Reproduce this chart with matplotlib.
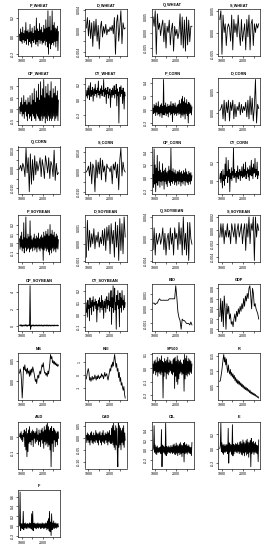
import numpy as np
import matplotlib
matplotlib.use('Agg')
import matplotlib.pyplot as plt
from matplotlib.ticker import MaxNLocator

plt.rcParams['font.family'] = ['Liberation Sans', 'DejaVu Sans']
plt.rcParams['axes.unicode_minus'] = False

# ---------------- data (approximate) ----------------
x_ticks = [1980, 1990, 2000, 2010]
x_tick_labels = ['1980', '', '2000', '']
first_year, last_year = 1978, 2014.9

P_WHEAT = [0.02,-0.05,0.08,-0.06,0.04,-0.08,0.10,-0.04,0.03,-0.07, 0.06,-0.05,0.15,-0.09,0.05,-0.03,0.07,-0.10,0.04,-0.06,
           0.13,-0.08,0.05,-0.12,0.09,-0.05,0.03,-0.07,0.11,-0.04, 0.06,-0.09,0.20,-0.06,0.08,-0.11,0.05,-0.04,0.14,-0.08,
           0.07,-0.05,0.10,-0.09,0.04,-0.07,0.12,-0.05,0.08,-0.10, 0.18,-0.06,0.09,-0.12,0.28,-0.20,0.10,-0.08,0.22,-0.14,
           0.06,-0.09,0.28,-0.07,0.12,-0.10,0.15,-0.06,0.09,-0.12, 0.08,-0.05,0.11,-0.16,0.05]
D_WHEAT = [0.0005,0.0025,-0.001,0.002,-0.0015,0.0015,-0.003,0.0018,-0.001,0.0022, -0.002,0.001,-0.0035,0.0005,0.0018,-0.0012,0.0008,-0.0005,0.0012,-0.0008,
           0.0003,-0.0002,0.0007,0.0,0.001,-0.0006,0.0025,-0.0045,0.0015,0.003, -0.002,0.0008,0.0038,-0.0025,0.0015,0.0003,0.0005]
Q_WHEAT = [0.005,0.002,0.007,-0.007,0.006,0.001,0.003,-0.001,0.002,0.004, -0.003,0.003,-0.005,0.002,0.0,0.004,-0.004,0.001,0.003,-0.006,
           0.002,-0.001,0.001,-0.002,0.0,0.006,-0.004,0.005,-0.005,0.004, -0.006,0.005,-0.004,0.004,-0.003,0.002,0.002]
S_WHEAT = [0.003,0.005,-0.005,0.004,0.0,0.002,-0.003,0.001,0.002,0.001, -0.002,0.004,-0.004,0.003,0.0,0.002,-0.001,0.004,0.0,-0.003,
           0.003,-0.002,0.0,0.002,-0.004,0.003,-0.001,0.004,-0.004,0.002, 0.003,-0.003,0.002,0.0,0.002,0.001,0.002]
OP_WHEAT = [0.1,-0.2,0.3,-0.1,0.5,-0.3,0.2,-0.2,0.6,-0.4, 0.3,-0.1,0.4,-0.3,0.2,-0.5,0.5,-0.2,0.3,-0.4,
            0.6,-0.3,0.2,-0.5,0.7,-0.2,0.4,-0.3,0.9,-0.4, 0.3,-0.5,0.8,-0.2,0.5,-0.3,1.1,-0.4,0.4,-0.5,
            1.2,-0.3,0.6,-0.5,0.9,-0.4,1.3,-0.3,0.5,-0.6, 1.0,-0.4,0.7,-0.5,1.1,-0.3,0.6,-0.5,0.8,-0.4,
            1.2,-0.5,0.5,-0.4,0.9,-0.3,0.7,-0.5,1.0,-0.4, 0.6,-0.3,0.8,-0.5,0.4]
CY_WHEAT = [0.05,0.12,0.02,0.15,0.06,0.18,0.0,0.10,0.22,0.04, 0.12,0.07,0.16,-0.02,0.10,0.14,0.05,0.20,0.08,0.12,
            0.03,0.15,0.09,0.24,0.06,0.11,0.02,0.14,0.08,0.18, 0.05,0.12,0.10,0.26,0.04,0.13,0.07,0.15,-0.05,0.12,
            0.08,0.16,0.02,0.10,0.06,0.14,-0.10,0.08,0.12,0.03, 0.15,0.06,0.10,0.18,0.02,0.12,0.08,0.20,-0.08,0.14,
            0.05,0.10,-0.30,0.12,0.16,0.04,0.18,0.08,0.12,-0.05, 0.15,0.06,-0.12,0.10,0.05]
P_CORN = [0.02,-0.06,0.08,-0.05,0.06,-0.09,0.10,-0.04,0.05,-0.08, 0.12,-0.06,0.04,-0.10,0.07,-0.05,0.09,-0.12,0.05,-0.07,
          0.45,-0.08,0.06,-0.05,0.10,-0.09,0.04,-0.06,0.08,-0.11, 0.05,-0.04,0.07,-0.08,0.12,-0.06,0.05,-0.18,0.09,-0.05,
          0.06,-0.08,0.10,-0.06,0.04,-0.09,0.07,-0.05,0.08,-0.07, 0.14,-0.06,0.09,-0.12,0.16,-0.08,0.20,-0.10,0.12,-0.07,
          0.18,-0.14,0.10,-0.06,0.15,-0.09,0.08,-0.20,0.11,-0.06, 0.09,-0.05,0.07,-0.08,0.04]
D_CORN = [0.0005,0.001,0.002,-0.0015,0.003,-0.002,0.0025,0.0,0.003,-0.002, 0.0025,0.0005,0.003,-0.0015,0.002,-0.001,0.0015,0.0005,0.0025,-0.0005,
          0.002,0.0,0.0015,0.0005,0.0025,-0.001,0.003,-0.0015,0.004,-0.0005, 0.0035,-0.002,0.0015,0.008,-0.0025,0.002,0.001]
Q_CORN = [0.0,0.002,-0.001,0.003,0.001,-0.004,0.011,-0.002,0.006,-0.012, 0.008,-0.008,0.005,-0.006,0.007,-0.003,0.004,-0.001,0.002,0.006,
          -0.004,0.005,0.001,-0.005,0.007,0.003,-0.002,0.006,-0.005,0.004, 0.002,-0.004,0.010,-0.006,0.003,-0.003,-0.002]
S_CORN = [0.0,0.001,0.003,-0.002,0.005,-0.006,0.004,0.002,-0.010,0.006, -0.003,0.005,-0.001,0.007,-0.004,0.006,0.0,0.003,-0.005,0.004,
          0.002,0.002,0.0,0.003,-0.006,0.004,0.001,0.005,-0.003,0.004, -0.009,0.006,0.012,-0.002,0.005,0.001,0.0]
OP_CORN = [0.05,-0.15,0.45,-0.10,0.20,-0.22,0.15,-0.08,0.35,-0.12, 0.10,-0.05,0.25,-0.15,0.12,-0.06,0.08,-0.12,0.22,-0.05,
           0.10,-0.18,0.12,-0.06,0.15,-0.10,0.08,-0.14,0.10,-0.05, 0.18,-0.08,0.12,-0.12,0.46,-0.06,0.10,-0.09,0.14,-0.05,
           0.08,-0.11,0.12,-0.07,0.06,-0.12,0.10,-0.05,0.09,-0.10, 0.12,-0.06,0.08,-0.13,0.10,-0.07,0.06,-0.10,0.11,-0.05,
           0.08,-0.12,0.14,-0.06,0.09,-0.08,0.05,-0.11,0.10,-0.06, 0.07,-0.10,0.08,-0.05,0.03]
CY_CORN = [0.02,0.08,-0.02,0.10,0.04,-0.08,0.12,0.00,0.06,-0.05, 0.18,0.02,0.25,0.05,0.10,-0.02,0.22,0.04,0.12,-0.12,
           0.08,0.02,0.14,0.00,0.10,0.06,0.35,0.03,0.12,0.05, 0.08,-0.02,0.10,0.04,0.16,0.02,0.09,0.06,0.12,0.00,
           0.10,0.05,0.15,0.03,0.08,0.18,0.04,0.12,0.06,0.20, 0.02,0.10,0.08,0.14,0.04,0.12,0.00,0.16,0.06,0.10,
           0.22,0.05,0.14,0.02,0.18,0.08,0.10,0.24,0.04,0.12, 0.06,0.20,0.02,0.10,0.06]
P_SOYBEAN = [0.05,-0.06,0.08,-0.04,0.12,-0.08,0.04,-0.05,0.22,-0.10, 0.06,-0.04,0.28,-0.08,0.05,-0.06,0.10,-0.05,0.07,-0.09,
             0.24,-0.06,0.08,-0.05,0.04,-0.08,0.06,-0.04,0.10,-0.07, 0.05,-0.05,0.08,-0.09,0.06,-0.04,0.11,-0.06,0.05,-0.08,
             0.07,-0.05,0.09,-0.06,0.06,-0.18,0.12,-0.07,0.08,-0.05, 0.13,-0.08,0.10,-0.06,0.15,-0.09,0.08,-0.12,0.20,-0.07,
             0.10,-0.10,0.14,-0.05,0.09,-0.08,0.12,-0.06,0.07,-0.09, 0.10,-0.05,0.08,-0.06,0.04]
D_SOYBEAN = [-0.0008,0.0014,-0.0004,0.0008,-0.0002,0.0006,0.0000,0.0009,-0.0003,0.0005, 0.0001,0.0007,-0.0002,0.0004,0.0000,0.0008,-0.0001,0.0009,-0.0004,0.0010,
             0.0002,0.0011,-0.0006,0.0012,0.0000,0.0008,-0.0008,0.0013,-0.0002,0.0011, -0.0010,0.0015,-0.0004,0.0012,-0.0006,0.0016,0.0004]
Q_SOYBEAN = [-0.002,0.002,-0.003,0.001,-0.001,0.000,0.001,-0.001,0.000,0.002, -0.002,0.001,-0.003,0.000,0.001,-0.002,0.002,-0.001,0.001,-0.003,
             0.002,0.000,0.001,-0.002,0.003,-0.001,0.002,-0.003,0.004,-0.002, 0.001,-0.003,0.003,-0.004,0.003,0.000,-0.001]
S_SOYBEAN = [-0.001,0.001,-0.001,0.001,-0.002,0.000,-0.001,0.001,-0.001,0.000, -0.002,0.001,0.000,-0.001,0.001,-0.002,0.000,0.001,-0.001,0.000,
             0.001,-0.002,0.000,0.001,-0.003,0.001,-0.001,0.002,-0.002,0.001, 0.000,0.002,-0.0045,0.002,-0.001,0.001,0.000]
OP_SOYBEAN = [0.0,0.08,-0.05,0.10,-0.08,0.05,-0.10,0.06,0.0,-0.06, 0.08,-0.04,0.12,-0.07,0.05,-0.09,0.06,-0.03,0.10,-0.05,
              4.8,-0.45,0.05,-0.08,0.07,-0.05,0.09,-0.06,0.04,-0.07, 0.06,-0.04,0.08,-0.05,0.05,-0.07,0.06,-0.04,0.07,-0.06,
              0.05,-0.05,0.08,-0.06,0.04,-0.08,0.06,-0.05,0.07,-0.04, 0.05,-0.06,0.08,-0.05,0.06,-0.07,0.05,-0.04,0.07,-0.06,
              0.04,-0.05,0.06,-0.04,0.05,-0.06,0.07,-0.05,0.04,-0.03, 0.05,-0.04,0.06,-0.05,0.02]
CY_SOYBEAN = [0.02,0.10,-0.02,0.12,0.05,0.08,-0.05,0.14,0.06,0.10, 0.00,0.12,0.07,0.15,0.03,0.10,0.08,0.13,0.05,0.11,
              -0.06,0.09,0.04,0.12,0.07,0.14,0.02,0.10,0.06,0.16, 0.04,0.12,0.08,-0.03,0.11,0.06,0.13,0.02,0.10,0.15,
              0.05,0.12,0.08,0.18,0.03,0.11,0.07,0.20,-0.08,0.14, 0.06,0.24,0.02,0.12,0.22,0.04,0.10,-0.12,0.16,0.08,
              0.20,0.05,0.12,-0.10,0.18,0.06,0.14,0.02,0.20,0.08, 0.12,0.04,0.16,0.06,0.10]
BIO = [0.0004,0.0004,0.0003,0.0004,0.0004,0.0006,0.0007,0.0006,0.0006,0.0006, 0.0006,0.0006,0.0006,0.0006,0.0006,0.0007,0.0007,0.0007,0.0007,0.0007,
       0.0007,0.0016,0.0008,-0.0002,-0.0006,-0.0008,-0.0014,-0.0007,-0.0008,-0.0008, -0.0009,-0.0010,-0.0010,-0.0010,-0.0011,-0.0009,-0.0011]
GDP = [0.025,0.060,0.015,0.055,0.005,0.065,0.040,0.000,0.050,0.030, 0.045,0.020,0.030,0.010,0.015,0.005,0.020,0.030,0.015,0.035,
       0.025,0.040,0.030,0.045,0.035,0.050,0.040,0.060,0.045,0.065, 0.055,0.070,0.060,0.080,0.085,0.065,0.040,0.080,0.070,0.045,
       0.050,0.040,0.035,0.030,0.020]
MS = [0.020,0.030,0.022,0.000,-0.040,-0.010,0.035,0.028,0.040,0.025, 0.030,0.018,0.032,0.020,0.025,0.012,0.028,0.015,0.030,0.022,
      0.035,0.028,0.020,0.010,0.000,0.005,-0.005,0.010,0.015,0.008, 0.020,0.025,0.018,0.030,0.040,0.035,0.045,0.030,0.020,0.022,
      0.015,0.020,0.012,0.025,0.018,0.030,0.045,0.065,0.055,0.060, 0.045,0.050,0.042,0.048,0.040,0.045,0.038,0.042,0.036,0.040]
KEI = [-0.3,0.0,0.3,0.5,0.2,-0.4,-0.2,-0.5,-0.3,-0.1, -0.4,-0.2,-0.3,0.0,-0.2,-0.4,-0.1,-0.3,0.0,-0.2,
       -0.3,-0.1,-0.2,0.1,-0.1,0.0,-0.3,-0.1,0.2,-0.1, 0.0,0.1,-0.2,-0.4,-0.1,0.2,0.5,0.3,0.8,0.6,
       1.0,0.7,1.2,1.6,1.1,0.6,0.9,0.3,0.5,-0.2, 0.2,-0.5,-0.2,-0.8,-0.6,-1.0,-1.2,-0.9,-1.5,-1.8]
SP500 = [0.03,-0.04,0.05,-0.02,0.06,-0.05,0.04,-0.03,0.08,-0.06, 0.05,-0.03,0.07,-0.04,0.06,-0.05,0.09,-0.03,0.05,-0.22,
         0.04,-0.06,0.07,-0.03,0.05,-0.08,0.06,-0.04,0.08,-0.05, 0.04,-0.03,0.06,-0.02,0.05,-0.04,0.03,-0.05,0.06,-0.03,
         0.07,-0.15,0.08,-0.06,0.05,-0.10,0.09,-0.12,0.06,-0.08, 0.05,-0.04,0.06,-0.03,0.04,-0.05,0.03,-0.04,0.06,-0.17,
         0.10,-0.08,0.07,-0.05,0.09,-0.06,0.05,-0.04,0.07,-0.05, 0.06,-0.03,0.05,-0.04,0.03]
R = [0.065,0.070,0.085,0.100,0.120,0.140,0.155,0.130,0.145,0.120, 0.140,0.110,0.095,0.120,0.100,0.090,0.105,0.085,0.095,0.080,
     0.090,0.075,0.085,0.068,0.078,0.062,0.072,0.058,0.068,0.055, 0.065,0.052,0.060,0.048,0.056,0.045,0.052,0.040,0.048,0.038,
     0.045,0.035,0.042,0.032,0.038,0.028,0.035,0.025,0.030,0.022, 0.028,0.020,0.025,0.018,0.022,0.015,0.018,0.012,0.015,0.010]
AUD = [0.0,0.02,-0.01,0.03,-0.02,0.01,-0.03,0.02,0.00,0.04, -0.06,0.03,-0.08,0.05,-0.12,0.02,-0.09,0.04,-0.04,0.06,
       -0.03,0.02,-0.05,0.03,-0.02,0.04,-0.06,0.03,-0.01,0.02, -0.04,0.03,-0.03,0.05,-0.02,0.01,-0.05,0.04,-0.03,0.02,
       -0.06,0.04,-0.02,0.05,-0.04,0.03,-0.07,0.06,-0.03,0.04, -0.05,0.07,-0.04,0.08,-0.06,0.06,-0.05,0.04,-0.08,0.05,
       -0.18,0.06,-0.04,0.03,-0.09,0.05,-0.02,0.04,-0.06,0.03, -0.03,0.02,-0.05,0.03,-0.01]
CAD = [0.01,-0.02,0.02,-0.01,0.015,-0.02,0.01,-0.03,0.02,-0.01, 0.025,-0.02,0.01,-0.025,0.02,-0.015,0.01,-0.02,0.03,-0.01,
       0.02,-0.02,0.015,-0.03,0.02,-0.01,0.025,-0.02,0.01,-0.03, 0.02,-0.015,0.03,-0.02,0.01,-0.025,0.02,-0.01,0.015,-0.02,
       0.025,-0.03,0.02,-0.015,0.03,-0.02,0.01,-0.025,0.04,-0.02, 0.05,-0.03,0.06,-0.04,0.03,-0.05,0.05,-0.03,0.04,-0.06,
       -0.12,0.06,-0.04,0.05,-0.03,0.04,-0.05,0.03,-0.02,0.04, -0.03,0.05,-0.04,0.02,-0.01]
OIL = [0.0,0.05,0.50,-0.05,0.10,-0.08,0.06,-0.10,0.08,-0.05, 0.04,-0.06,0.05,-0.04,0.06,-0.08,0.42,-0.35,0.10,-0.06,
       0.08,-0.05,0.06,-0.09,0.55,-0.12,0.07,-0.08,0.06,-0.05, 0.08,-0.06,0.05,-0.07,0.09,-0.05,0.06,-0.08,0.10,-0.06,
       0.12,-0.09,0.08,-0.10,0.14,-0.07,0.10,-0.12,0.08,-0.06, 0.12,-0.10,0.15,-0.08,0.10,-0.14,0.09,-0.06,0.13,-0.25,
       0.15,-0.08,0.10,-0.06,0.12,-0.09,0.08,-0.05,0.10,-0.07, 0.06,-0.08,0.05,-0.12,0.15]
E = [0.0,0.04,0.35,-0.04,0.08,-0.06,0.05,-0.08,0.06,-0.05, 0.04,-0.05,0.06,-0.04,0.05,-0.07,0.28,-0.20,0.08,-0.05,
     0.06,-0.04,0.05,-0.08,0.33,-0.10,0.06,-0.07,0.05,-0.04, 0.07,-0.05,0.06,-0.06,0.08,-0.04,0.05,-0.07,0.09,-0.05,
     0.10,-0.08,0.07,-0.09,0.12,-0.06,0.09,-0.10,0.07,-0.05, 0.11,-0.09,0.13,-0.07,0.09,-0.12,0.08,-0.05,0.11,-0.25,
     0.14,-0.07,0.09,-0.05,0.10,-0.08,0.07,-0.05,0.09,-0.06, 0.05,-0.07,0.04,-0.18,0.12]
F = [0.0,0.70,-0.10,0.05,-0.05,0.04,-0.06,0.30,-0.08,0.05, -0.04,0.06,-0.05,0.04,-0.06,0.05,-0.03,0.04,-0.05,0.06,
     -0.04,0.05,-0.06,0.25,-0.08,0.30,-0.10,0.05,-0.04,0.06, -0.05,0.04,-0.06,0.05,-0.04,0.06,-0.05,0.04,-0.03,0.05,
     -0.06,0.04,-0.05,0.06,-0.04,0.05,-0.06,0.04,-0.05,0.06, -0.04,0.05,-0.08,0.10,-0.06,0.15,-0.10,0.30,-0.12,0.08,
     -0.20,0.25,-0.08,0.06,-0.05,0.10,-0.06,0.05,-0.04,0.06, -0.05,0.04,-0.03,0.05,-0.02]

panel_names = ['P_WHEAT', 'D_WHEAT', 'Q_WHEAT', 'S_WHEAT',
               'OP_WHEAT', 'CY_WHEAT', 'P_CORN', 'D_CORN',
               'Q_CORN', 'S_CORN', 'OP_CORN', 'CY_CORN',
               'P_SOYBEAN', 'D_SOYBEAN', 'Q_SOYBEAN', 'S_SOYBEAN',
               'OP_SOYBEAN', 'CY_SOYBEAN', 'BIO', 'GDP',
               'MS', 'KEI', 'SP500', 'R',
               'AUD', 'CAD', 'OIL', 'E',
               'F']
panel_data = [P_WHEAT, D_WHEAT, Q_WHEAT, S_WHEAT,
              OP_WHEAT, CY_WHEAT, P_CORN, D_CORN,
              Q_CORN, S_CORN, OP_CORN, CY_CORN,
              P_SOYBEAN, D_SOYBEAN, Q_SOYBEAN, S_SOYBEAN,
              OP_SOYBEAN, CY_SOYBEAN, BIO, GDP,
              MS, KEI, SP500, R,
              AUD, CAD, OIL, E,
              F]

# ---------------- layout (pixels, R style mfrow=c(8,4)) ----------------
W, H = 267, 550
col_w, row_h = W / 4, H / 8
box_left, box_top, box_w, box_h = 18, 9, 42, 47

fig = plt.figure(figsize=(W / 100, H / 100), dpi=100)
axes = []
for i, (name, vals) in enumerate(zip(panel_names, panel_data)):
    r, c = divmod(i, 4)
    x0 = c * col_w + box_left
    y0 = r * row_h + box_top
    ax = fig.add_axes([x0 / W, 1 - (y0 + box_h) / H, box_w / W, box_h / H])
    t = np.linspace(first_year, last_year, len(vals))
    ax.plot(t, vals, color='black', lw=0.6)
    ax.margins(x=0.04, y=0.04)
    ylo, yhi = ax.get_ylim()
    ticks = MaxNLocator(nbins=5, steps=[1, 2, 5, 10]).tick_values(ylo, yhi)
    ticks = [v for v in ticks if ylo <= v <= yhi]
    ax.set_yticks(ticks)
    ax.set_ylim(ylo, yhi)
    ax.ticklabel_format(axis='y', style='plain', useOffset=False)
    ax.set_xticks(x_ticks)
    ax.set_xticklabels(x_tick_labels)
    ax.set_title(name, fontsize=2.8, fontweight='bold', pad=2.2)
    ax.tick_params(direction='out', length=1.3, width=0.4, labelsize=2.6, pad=1.2)
    ax.tick_params(axis='y', labelrotation=90)
    for lab in ax.get_yticklabels():
        lab.set_va('center')
    for s in ax.spines.values():
        s.set_linewidth(0.45)
    axes.append(ax)

# drop y labels that would overlap the one below, the way R does
fig.canvas.draw()
renderer = fig.canvas.get_renderer()
for ax in axes:
    last_top = None
    for lab in ax.get_yticklabels():
        if not lab.get_text():
            continue
        bb = lab.get_window_extent(renderer)
        if last_top is not None and bb.y0 < last_top + 2:
            lab.set_visible(False)
        else:
            last_top = bb.y1

fig.savefig('out.png', dpi=100)
